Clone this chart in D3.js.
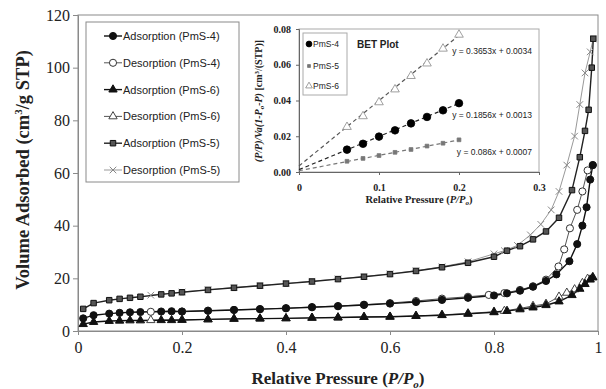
<!DOCTYPE html>
<html>
<head>
<meta charset="utf-8">
<script src="https://cdn.jsdelivr.net/npm/d3@7"></script>
<style>
  body { margin: 0; background: #fff; }
  svg text { fill: #222; }
</style>
</head>
<body>
<div class="chart"></div>
<script>
// main isotherm data [P/Po, volume]
var adsPmS4 = [[0.01,4.8],[0.03,6.0],[0.06,6.6],[0.08,6.9],[0.10,7.1],[0.12,7.2],[0.16,7.4],[0.18,7.5],[0.20,7.4],[0.25,7.7],[0.30,8.0],[0.35,8.3],[0.40,8.6],[0.45,9.0],[0.50,9.4],[0.55,9.9],[0.60,10.4],[0.65,11.0],[0.70,11.8],[0.75,12.6],[0.80,13.5],[0.825,14.3],[0.85,15.3],[0.875,16.8],[0.90,19.0],[0.92,21.5],[0.945,26.5],[0.96,33],[0.97,40],[0.978,47],[0.985,57.5],[0.99,63]];
var desPmS4 = [[0.99,63],[0.98,61],[0.97,53],[0.96,46],[0.946,39],[0.935,31],[0.924,24.5],[0.90,19.5],[0.875,17],[0.85,15.6],[0.82,14.4],[0.79,13.7],[0.75,13.0],[0.70,12.3],[0.65,11.4],[0.60,10.6],[0.55,10.0],[0.50,9.5],[0.45,9.1],[0.40,8.7],[0.35,8.3],[0.30,8.0],[0.25,7.7],[0.20,7.4],[0.14,7.3]];
var adsPmS6 = [[0.01,2.6],[0.03,3.4],[0.06,3.8],[0.08,3.9],[0.10,4.0],[0.12,4.0],[0.16,4.1],[0.18,4.1],[0.20,4.2],[0.25,4.4],[0.30,4.6],[0.35,4.7],[0.40,4.8],[0.45,5.0],[0.50,5.1],[0.55,5.3],[0.60,5.4],[0.65,5.7],[0.70,6.0],[0.75,6.5],[0.80,7.1],[0.825,7.6],[0.85,8.2],[0.875,8.9],[0.90,9.8],[0.925,11.2],[0.95,13.6],[0.965,16],[0.975,17.8],[0.985,19.5],[0.99,20.3]];
var desPmS6 = [[0.99,20.5],[0.98,19.8],[0.97,18.2],[0.955,15.8],[0.94,14.5],[0.925,13],[0.90,10.3],[0.875,9.5],[0.85,8.6],[0.82,7.6],[0.80,7.3],[0.75,6.7],[0.70,6.1],[0.65,5.7],[0.60,5.4],[0.55,5.3],[0.50,5.1],[0.45,5.0],[0.40,4.8],[0.35,4.7],[0.30,4.6],[0.25,4.4],[0.20,4.2],[0.14,4.1]];
var adsPmS5 = [[0.01,8.4],[0.03,10.6],[0.06,11.7],[0.08,12.2],[0.10,12.6],[0.12,13.0],[0.16,13.9],[0.18,14.3],[0.20,14.7],[0.25,15.6],[0.30,16.4],[0.35,17.2],[0.40,18.0],[0.45,18.8],[0.50,19.7],[0.55,20.6],[0.60,21.6],[0.65,22.8],[0.70,24.2],[0.75,25.9],[0.80,28.2],[0.825,30.5],[0.85,32.2],[0.875,34.8],[0.90,37.8],[0.925,43],[0.95,53.5],[0.965,66],[0.975,76],[0.982,84],[0.988,100],[0.991,111]];
var desPmS5 = [[0.991,111],[0.985,106],[0.975,98],[0.965,86],[0.955,74],[0.94,63],[0.925,53],[0.91,46],[0.89,40.5],[0.87,36.5],[0.845,32.5],[0.82,30.5],[0.80,29.3],[0.75,26.3],[0.70,24.4],[0.65,22.9],[0.60,21.7],[0.55,20.7],[0.50,19.8],[0.45,18.9],[0.40,18.1],[0.35,17.3],[0.30,16.5],[0.25,15.7],[0.20,14.8],[0.14,13.6]];

var xTicks = [0, 0.2, 0.4, 0.6, 0.8, 1];
var yTicks = [0, 20, 40, 60, 80, 100, 120];

// BET inset data
var betX = [0.06, 0.08, 0.10, 0.12, 0.14, 0.16, 0.18, 0.20];
var betPmS4 = [0.0125, 0.0158, 0.0198, 0.0233, 0.0272, 0.0308, 0.0345, 0.0385];
var betPmS5 = [0.0060, 0.0076, 0.0092, 0.0110, 0.0126, 0.0145, 0.0161, 0.0180];
var betPmS6 = [0.0252, 0.0312, 0.0390, 0.0462, 0.0537, 0.0607, 0.0690, 0.0768];
var betFits = [
  {name: "PmS-6", slope: 0.3653, icpt: 0.0034, label: "y = 0.3653x + 0.0034"},
  {name: "PmS-4", slope: 0.1856, icpt: 0.0013, label: "y = 0.1856x + 0.0013"},
  {name: "PmS-5", slope: 0.086, icpt: 0.0007, label: "y = 0.086x + 0.0007"}
];
var insetXTicks = [0, 0.1, 0.2, 0.3];
var insetYTicks = [0, 0.02, 0.04, 0.06, 0.08];

var w = 606, h = 389;
var svg = d3.select(".chart").append("svg").attr("width", w).attr("height", h);

var x = d3.scaleLinear().domain([0, 1]).range([78, 598]);
var y = d3.scaleLinear().domain([0, 120]).range([331, 15]);

// frame
svg.append("rect")
  .attr("x", x(0)).attr("y", y(120))
  .attr("width", x(1) - x(0)).attr("height", y(0) - y(120))
  .attr("fill", "none").attr("stroke", "#8a8a8a").attr("stroke-width", 1);

var xAxis = svg.append("g").attr("transform", "translate(0," + y(0) + ")")
  .call(d3.axisBottom(x).tickValues(xTicks).tickFormat(d3.format("")).tickSize(4));
var yAxis = svg.append("g").attr("transform", "translate(" + x(0) + ",0)")
  .call(d3.axisLeft(y).tickValues(yTicks).tickSize(5));
[xAxis, yAxis].forEach(function(g) {
  g.select(".domain").attr("stroke", "#8a8a8a");
  g.selectAll(".tick line").attr("stroke", "#8a8a8a");
  g.selectAll(".tick text").attr("fill", "#3a3a3a")
    .style("font-family", "Liberation Serif, Times New Roman, serif").style("font-size", "16px");
});
xAxis.selectAll(".tick text").attr("dy", "0.95em");
yAxis.selectAll(".tick text").attr("x", -8);

// axis titles
svg.append("text")
  .attr("transform", "translate(29," + 170 + ") rotate(-90)")
  .attr("text-anchor", "middle")
  .style("font-family", "Liberation Serif, serif").style("font-size", "18.5px").style("font-weight", "bold")
  .html("Volume Adsorbed (cm<tspan dy='-7' font-size='11px'>3</tspan><tspan dy='7'>/g STP)</tspan>");
svg.append("text")
  .attr("x", 338).attr("y", 384).attr("text-anchor", "middle")
  .style("font-family", "Liberation Serif, serif").style("font-size", "17px").style("font-weight", "bold")
  .html("Relative Pressure (<tspan font-style='italic'>P/P</tspan><tspan font-style='italic' font-size='11px' dy='4'>o</tspan><tspan dy='-4'>)</tspan>");

var series = [
  {data: desPmS5, sym: d3.symbolTimes, fill: "none", stroke: "#888", line: "#999", lw: 1, size: 30, label: "Desorption (PmS-5)"},
  {data: adsPmS5, sym: d3.symbolSquare, fill: "#555", stroke: "#111", line: "#222", lw: 1.4, size: 30, label: "Adsorption (PmS-5)"},
  {data: desPmS4, sym: d3.symbolCircle, fill: "#fff", stroke: "#333", line: "#555", lw: 1, size: 40, label: "Desorption (PmS-4)"},
  {data: adsPmS4, sym: d3.symbolCircle, fill: "#111", stroke: "#111", line: "#111", lw: 1.4, size: 40, label: "Adsorption (PmS-4)"},
  {data: desPmS6, sym: d3.symbolTriangle, fill: "#fff", stroke: "#444", line: "#555", lw: 1, size: 30, label: "Desorption (PmS-6)"},
  {data: adsPmS6, sym: d3.symbolTriangle, fill: "#111", stroke: "#111", line: "#111", lw: 1.4, size: 30, label: "Adsorption (PmS-6)"}
];

var line = d3.line().x(function(d) { return x(d[0]); }).y(function(d) { return y(d[1]); });

series.forEach(function(s) {
  svg.append("path").datum(s.data)
    .attr("fill", "none").attr("stroke", s.line).attr("stroke-width", s.lw)
    .attr("d", line);
});
series.forEach(function(s) {
  svg.selectAll(null).data(s.data).enter().append("path")
    .attr("transform", function(d) { return "translate(" + x(d[0]) + "," + y(d[1]) + ")"; })
    .attr("d", d3.symbol().type(s.sym).size(s.size))
    .attr("fill", s.fill).attr("stroke", s.stroke).attr("stroke-width", 1);
});

// legend
var legendOrder = [3, 2, 5, 4, 1, 0];
svg.append("rect").attr("x", 86).attr("y", 22).attr("width", 153).attr("height", 160)
  .attr("fill", "#fff").attr("stroke", "#8a8a8a");
legendOrder.forEach(function(k, i) {
  var s = series[k];
  var ly = 36 + i * 26.8;
  svg.append("line").attr("x1", 104).attr("x2", 122).attr("y1", ly).attr("y2", ly)
    .attr("stroke", s.line).attr("stroke-width", s.lw);
  svg.append("path").attr("transform", "translate(113," + ly + ")")
    .attr("d", d3.symbol().type(s.sym).size(s.size))
    .attr("fill", s.fill).attr("stroke", s.stroke);
  svg.append("text").attr("x", 123).attr("y", ly + 4)
    .style("font-family", "Liberation Sans, Arial, sans-serif").style("font-size", "11px")
    .attr("fill", "#333")
    .text(s.label);
});

// inset BET plot
var ix = d3.scaleLinear().domain([0, 0.3]).range([299, 539]);
var iy = d3.scaleLinear().domain([0, 0.08]).range([172, 29]);

svg.append("rect").attr("x", 249).attr("y", 17).attr("width", 298).attr("height", 193).attr("fill", "#fff");
svg.append("rect").attr("x", ix(0)).attr("y", iy(0.08))
  .attr("width", ix(0.3) - ix(0)).attr("height", iy(0) - iy(0.08))
  .attr("fill", "none").attr("stroke", "#aaa");

var ixAxis = svg.append("g").attr("transform", "translate(0," + iy(0) + ")")
  .call(d3.axisBottom(ix).tickValues(insetXTicks).tickFormat(d3.format("")).tickSize(3));
var iyAxis = svg.append("g").attr("transform", "translate(" + ix(0) + ",0)")
  .call(d3.axisLeft(iy).tickValues(insetYTicks).tickFormat(d3.format(".2f")).tickSize(3));
[ixAxis, iyAxis].forEach(function(g) {
  g.select(".domain").attr("stroke", "#666");
  g.selectAll(".tick line").attr("stroke", "#666");
  g.selectAll(".tick text").attr("fill", "#222")
    .style("font-family", "Liberation Serif, serif").style("font-size", "10px").style("font-weight", "bold");
});
ixAxis.selectAll(".tick text").attr("dy", "1.3em");
iyAxis.selectAll(".tick text").attr("x", -8);

svg.append("text").attr("transform", "translate(262,101) rotate(-90)").attr("text-anchor", "middle")
  .style("font-family", "Liberation Serif, serif").style("font-size", "10px").style("font-weight", "bold")
  .html("<tspan font-style='italic'>(P/P)/Va(1-P</tspan><tspan font-style='italic' font-size='7px' dy='2'>o</tspan><tspan font-style='italic' dy='-2'>-P)</tspan> [cm<tspan font-size='7px' dy='-3'>3</tspan><tspan dy='3'>/(STP)]</tspan>");
svg.append("text").attr("x", 419).attr("y", 203).attr("text-anchor", "middle")
  .style("font-family", "Liberation Serif, serif").style("font-size", "10.5px").style("font-weight", "bold")
  .html("Relative Pressure (<tspan font-style='italic'>P/P</tspan><tspan font-style='italic' font-size='7px' dy='2'>o</tspan><tspan dy='-2'>)</tspan>");

// trend lines
var fitStyle = {"PmS-6": "#555", "PmS-4": "#222", "PmS-5": "#777"};
betFits.forEach(function(f) {
  svg.append("line")
    .attr("x1", ix(0)).attr("y1", iy(f.icpt))
    .attr("x2", ix(0.2)).attr("y2", iy(f.slope * 0.2 + f.icpt))
    .attr("stroke", fitStyle[f.name]).attr("stroke-width", 1.2).attr("stroke-dasharray", "4,3");
});

var betSeries = [
  {name: "PmS-4", vals: betPmS4, sym: d3.symbolCircle, size: 45, fill: "#000", stroke: "#000"},
  {name: "PmS-5", vals: betPmS5, sym: d3.symbolSquare, size: 14, fill: "#777", stroke: "#777"},
  {name: "PmS-6", vals: betPmS6, sym: d3.symbolTriangle, size: 32, fill: "#fff", stroke: "#888"}
];
betSeries.forEach(function(s) {
  svg.selectAll(null).data(s.vals).enter().append("path")
    .attr("transform", function(d, i) { return "translate(" + ix(betX[i]) + "," + iy(d) + ")"; })
    .attr("d", d3.symbol().type(s.sym).size(s.size))
    .attr("fill", s.fill).attr("stroke", s.stroke).attr("stroke-width", 0.8);
});

// equation labels
var eqY = [51, 115, 152];
betFits.forEach(function(f, i) {
  svg.append("text").attr("x", 532).attr("y", eqY[i] + 3).attr("text-anchor", "end")
    .style("font-family", "Liberation Sans, Arial, sans-serif").style("font-size", "8.5px").attr("fill", "#333")
    .text(f.label);
});

// inset legend
svg.append("rect").attr("x", 303).attr("y", 33).attr("width", 44).attr("height", 62)
  .attr("fill", "#fff").attr("stroke", "#aaa");
var insetLegendY = [44, 66, 86];
betSeries.forEach(function(s, i) {
  svg.append("path").attr("transform", "translate(309," + insetLegendY[i] + ")")
    .attr("d", d3.symbol().type(s.sym).size(s.size * 0.6))
    .attr("fill", s.fill).attr("stroke", s.stroke).attr("stroke-width", 0.8);
  svg.append("text").attr("x", 313).attr("y", insetLegendY[i] + 3)
    .style("font-family", "Liberation Sans, Arial, sans-serif").style("font-size", "8.5px").attr("fill", "#333")
    .text(s.name);
});
svg.append("text").attr("x", 357).attr("y", 48)
  .style("font-family", "Liberation Sans, Arial, sans-serif").style("font-size", "10px").style("font-weight", "bold")
  .text("BET Plot");
</script>
</body>
</html>
